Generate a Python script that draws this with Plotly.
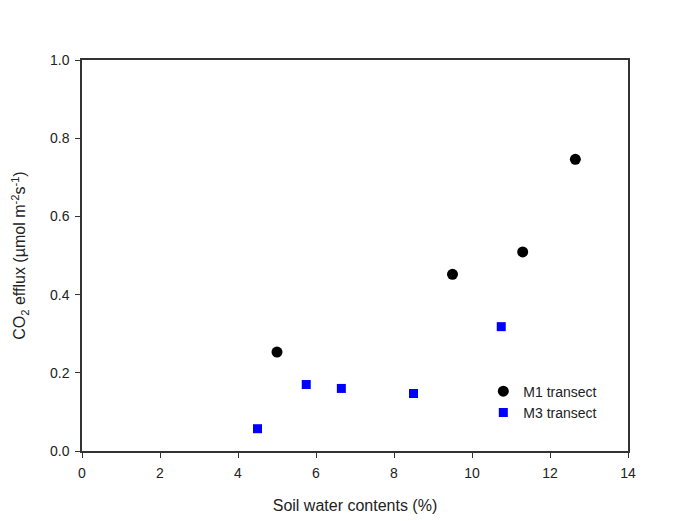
import plotly.graph_objects as go

m1_x = [5.0, 9.5, 11.3, 12.65]
m1_y = [0.253, 0.452, 0.509, 0.746]
m3_x = [4.5, 5.75, 6.65, 8.5, 10.75]
m3_y = [0.057, 0.170, 0.160, 0.147, 0.318]

fig = go.Figure()
fig.add_trace(go.Scatter(x=m1_x, y=m1_y, mode="markers", name="M1 transect",
                         marker=dict(symbol="circle", size=11, color="black")))
fig.add_trace(go.Scatter(x=m3_x, y=m3_y, mode="markers", name="M3 transect",
                         marker=dict(symbol="square", size=9, color="#0000ff")))

font = "Liberation Sans, Arial, sans-serif"
fig.update_layout(
    width=681, height=521,
    margin=dict(l=74, r=61, t=52, b=78),
    paper_bgcolor="white", plot_bgcolor="white",
    font=dict(family=font, size=14, color="#222"),
    showlegend=True,
    legend=dict(x=0.735, y=0.125, xanchor="left", yanchor="middle",
                bgcolor="rgba(0,0,0,0)", font=dict(size=14, color="#222"),
                itemsizing="trace", tracegroupgap=0),
    xaxis=dict(range=[0, 14], tick0=0, dtick=2, showgrid=False, zeroline=False,
               showline=True, linecolor="#333", linewidth=1.5, mirror=True,
               ticks="outside", ticklen=5, tickcolor="#333", ticklabelstandoff=3,
               title=dict(text="Soil water contents (%)", font=dict(size=16), standoff=20)),
    yaxis=dict(range=[0, 1.0], tick0=0, dtick=0.2, tickformat=".1f", showgrid=False, zeroline=False,
               showline=True, linecolor="#333", linewidth=1.5, mirror=True,
               ticks="outside", ticklen=5, tickcolor="#333", ticklabelstandoff=3,
               title=dict(text="CO<sub>2</sub> efflux (µmol m<sup>-2</sup>s<sup>-1</sup>)",
                          font=dict(size=16), standoff=20)),
)

fig.write_html("out.html")
